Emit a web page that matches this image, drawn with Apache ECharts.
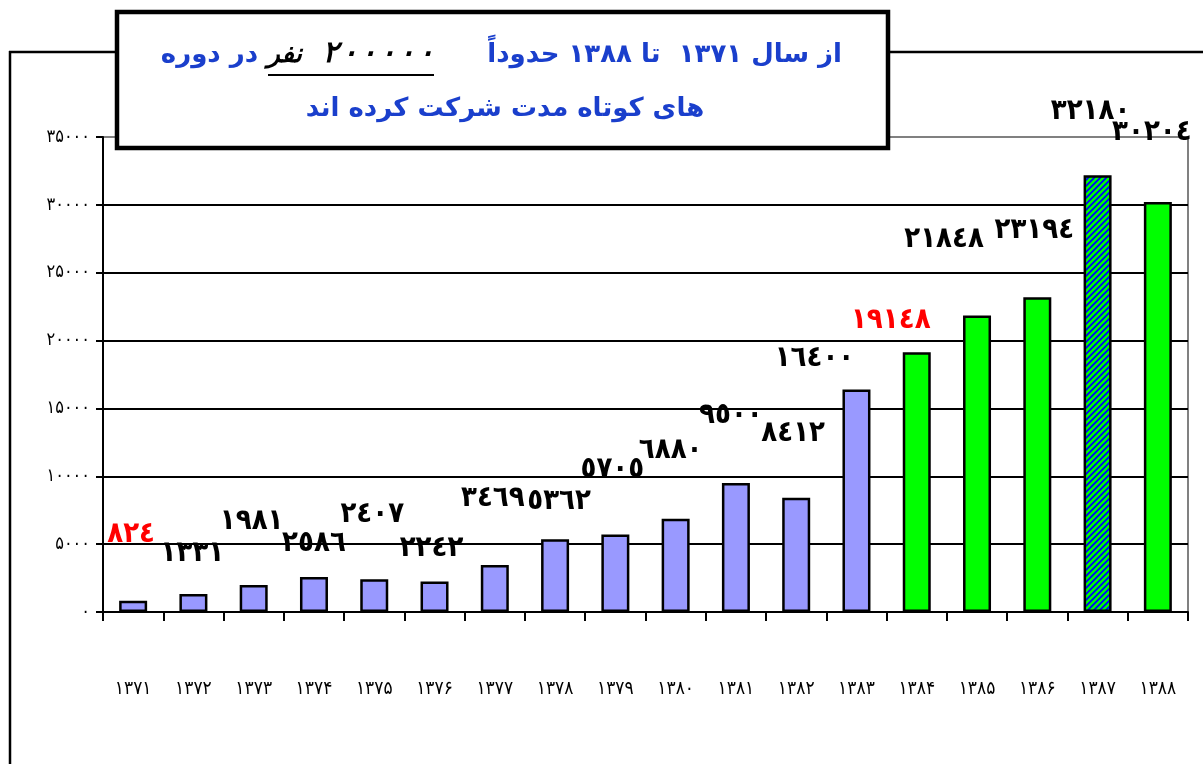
<!DOCTYPE html>
<html><head><meta charset="utf-8">
<script src="https://cdn.jsdelivr.net/npm/echarts@6/dist/echarts.min.js"></script>
<style>html,body{margin:0;padding:0;background:#fff}#c{width:1203px;height:764px}</style>
</head><body><div id="c"></div>
<script>
// ---- data ----
const categories = ['۱۳۷۱','۱۳۷۲','۱۳۷۳','۱۳۷۴','۱۳۷۵','۱۳۷۶','۱۳۷۷','۱۳۷۸','۱۳۷۹','۱۳۸۰','۱۳۸۱','۱۳۸۲','۱۳۸۳','۱۳۸۴','۱۳۸۵','۱۳۸۶','۱۳۸۷','۱۳۸۸'];
const values = [824,1331,1981,2586,2407,2242,3469,5362,5705,6880,9500,8412,16400,19148,21848,23194,32180,30204];
const yTickLabels = ['۰','۵۰۰۰','۱۰۰۰۰','۱۵۰۰۰','۲۰۰۰۰','۲۵۰۰۰','۳۰۰۰۰','۳۵۰۰۰'];
const titleRight = 'از سال ۱۳۷۱  تا ۱۳۸۸ حدوداً';
const titleNumber = '۲\u200A۰\u200A۰\u200A۰\u200A۰\u200A۰';
const titleUnit = 'نفر';
const titleLeft = 'در دوره';
const titleLine2 = 'های کوتاه مدت شرکت کرده اند';

// ---- styles ----
const BLUE = '#1a3fcc';
const barFills = ['p','p','p','p','p','p','p','p','p','p','p','p','p','g','g','g','h','g'];
const labelColors = ['#ff0000','#000','#000','#000','#000','#000','#000','#000','#000','#000','#000','#000','#000','#ff0000','#000','#000','#000','#000'];
const labelDx = [-2,-1,-2,0,-2,-3,-2,4,-3,-5,-5,-3,-42,-26,-33,-3,-7,-6];
const labelDy = [-52,-26,-50,-19,-51,-19,-52,-24,-51,-54,-54,-50,-17,-18,-62,-53,-50,-56];

const arabicDigits = '٠١٢٣٤٥٦٧٨٩';
function toArabic(n){ return String(n).replace(/[0-9]/g, d => arabicDigits[+d]); }

// hatch pattern for the striped bar
const pat = document.createElement('canvas');
pat.width = 6; pat.height = 6;
const pc = pat.getContext('2d');
pc.fillStyle = '#00ff00'; pc.fillRect(0,0,6,6);
pc.strokeStyle = '#0000ff'; pc.lineWidth = 1.8;
pc.beginPath();
pc.moveTo(-1,7); pc.lineTo(7,-1);
pc.moveTo(-4,4); pc.lineTo(4,-4);
pc.moveTo(2,10); pc.lineTo(10,2);
pc.stroke();

function fillFor(k){
  if (k === 'p') return '#9999ff';
  if (k === 'g') return '#00ff00';
  return { image: pat, repeat: 'repeat' };
}

const FONT = '"DejaVu Sans", sans-serif';
const FONT_C = '"DejaVu Sans Condensed", "DejaVu Sans", sans-serif';

const chart = echarts.init(document.getElementById('c'), null, {renderer:'canvas'});
chart.setOption({
  backgroundColor: '#fff',
  animation: false,
  grid: { left: 103, right: 15, top: 137, bottom: 152, show: true, borderColor: '#808080', borderWidth: 2, outerBoundsMode: 'none' },
  xAxis: {
    type: 'category',
    data: categories,
    axisLine: { lineStyle: { color: '#000', width: 2 } },
    axisTick: { show: true, alignWithLabel: false, length: 9, lineStyle: { color: '#000', width: 2 } },
    axisLabel: { interval: 0, margin: 68, color: '#000', fontSize: 19, fontFamily: FONT_C },
    splitLine: { show: false }
  },
  yAxis: {
    type: 'value',
    min: 0, max: 35000, interval: 5000,
    axisLine: { show: true, lineStyle: { color: '#000', width: 2 } },
    axisTick: { show: true, length: 7, lineStyle: { color: '#000', width: 2 } },
    axisLabel: { margin: 13, color: '#000', fontSize: 18, fontFamily: FONT_C,
      formatter: v => yTickLabels[Math.round(v / 5000)] },
    splitLine: { show: true, lineStyle: { color: ['#000','#000','#000','#000','#000','#000','#000','#808080'], width: 2 } }
  },
  series: [{
    type: 'bar',
    barWidth: 28,
    data: values.map((v, i) => ({
      value: v,
      itemStyle: { color: fillFor(barFills[i]), borderColor: '#000', borderWidth: 2.5 },
      label: { offset: [labelDx[i], labelDy[i]], color: labelColors[i] }
    })),
    label: {
      show: true, position: 'top', distance: 0,
      fontSize: 29, fontWeight: 'bold', lineHeight: 28, fontFamily: FONT_C,
      formatter: p => toArabic(p.value)
    }
  }],
  graphic: [
    { type: 'line', z: 50, shape: { x1: 10, y1: 51, x2: 10, y2: 764 }, style: { stroke: '#000', lineWidth: 2.5 } },
    { type: 'line', z: 50, shape: { x1: 9, y1: 52, x2: 1203, y2: 52 }, style: { stroke: '#000', lineWidth: 2.5 } },
    { type: 'rect', z: 60, shape: { x: 117, y: 12, width: 771, height: 136 }, style: { fill: '#fff', stroke: '#000', lineWidth: 4.5 } },
    { type: 'text', z: 61, x: 842, y: 55, style: { text: titleRight, fill: BLUE, font: 'bold 26px ' + FONT, align: 'right', verticalAlign: 'middle' } },
    { type: 'text', z: 61, x: 434, y: 54, style: { text: titleNumber, fill: '#000', font: 'italic bold 30px ' + FONT, align: 'right', verticalAlign: 'middle' } },
    { type: 'text', z: 61, x: 302, y: 55, style: { text: titleUnit, fill: '#000', font: 'italic bold 26px ' + FONT, align: 'right', verticalAlign: 'middle' } },
    { type: 'text', z: 61, x: 258, y: 55, style: { text: titleLeft, fill: BLUE, font: 'bold 26px ' + FONT, align: 'right', verticalAlign: 'middle' } },
    { type: 'line', z: 61, shape: { x1: 268, y1: 75, x2: 434, y2: 75 }, style: { stroke: '#000', lineWidth: 2 } },
    { type: 'text', z: 61, x: 505, y: 109, style: { text: titleLine2, fill: BLUE, font: 'bold 26px ' + FONT, align: 'center', verticalAlign: 'middle' } }
  ]
});
</script>
</body></html>
